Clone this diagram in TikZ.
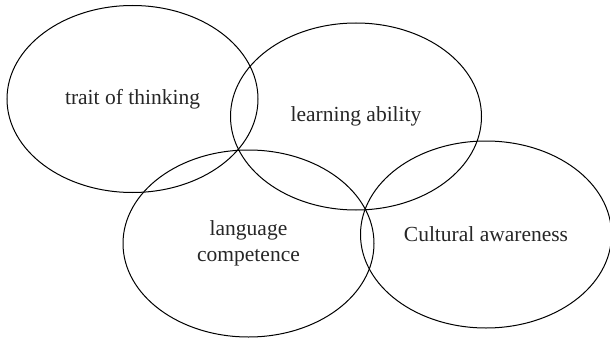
\documentclass[tikz,border=0pt]{standalone}
\usepackage{fontspec}
\setmainfont{Liberation Serif}
\usetikzlibrary{shapes.geometric}
\begin{document}
\begin{tikzpicture}[x=0.5pt,y=-0.5pt,
    skill/.style={ellipse,draw,line width=0.5pt,inner sep=0pt,
      minimum width=125.5pt,minimum height=93.5pt,align=center,
      font=\fontsize{10.75}{12.8}\selectfont,text=black!85}]
    \useasboundingbox (0,0) rectangle (610,342);
    \node[skill] (thinking) at (132.5,99) {trait of thinking};
    \node[skill] (learning) at (356,116.5) {learning ability};
    \node[skill] (language) at (248.5,243.5) {language\\competence};
    \node[skill] (culture) at (486,234.5) {Cultural awareness};
\end{tikzpicture}
\end{document}
